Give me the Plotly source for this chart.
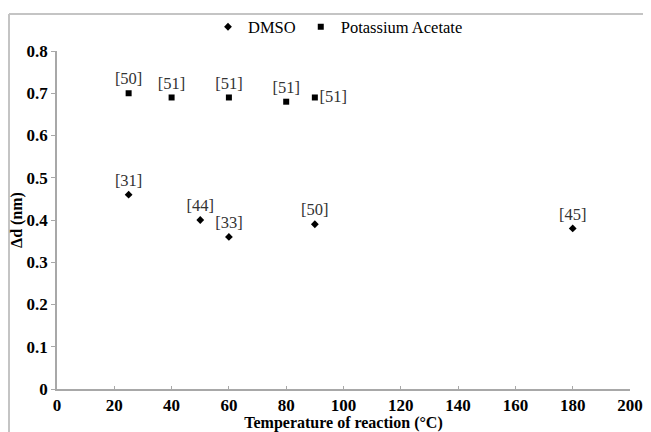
import plotly.graph_objects as go

dmso_x = [25, 50, 60, 90, 180]
dmso_y = [0.46, 0.40, 0.36, 0.39, 0.38]
dmso_lbl = ["[31]", "[44]", "[33]", "[50]", "[45]"]

ka_x = [25, 40, 60, 80, 90]
ka_y = [0.70, 0.69, 0.69, 0.68, 0.69]
ka_lbl = ["[50]", "[51]", "[51]", "[51]", "[51]"]
ka_pos = ["top center", "top center", "top center", "top center", "middle right"]

x_ticks = list(range(0, 201, 20))
y_ticks = [0, 0.1, 0.2, 0.3, 0.4, 0.5, 0.6, 0.7, 0.8]
y_tick_text = ["0", "0.1", "0.2", "0.3", "0.4", "0.5", "0.6", "0.7", "0.8"]

serif = "Liberation Serif"

fig = go.Figure()
fig.add_trace(go.Scatter(
    x=dmso_x, y=dmso_y, mode="markers+text", name="DMSO",
    text=dmso_lbl, textposition="top center",
    textfont=dict(family=serif, size=16.5, color="#333333"),
    marker=dict(symbol="diamond", size=6, color="black"),
))
fig.add_trace(go.Scatter(
    x=ka_x, y=ka_y, mode="markers+text", name="Potassium Acetate",
    text=ka_lbl, textposition=ka_pos,
    textfont=dict(family=serif, size=16.5, color="#333333"),
    marker=dict(symbol="square", size=6, color="black"),
))

# page body has an 8px margin; plot area in window pixels x 57..630, y 51..389
OFF = 8
W, H = 651 - OFF, 432 - OFF
x_left, x_right, y_top, y_bot = 57, 630, 51, 389
L, R = x_left - OFF, (OFF + W) - x_right
T, B = y_top - OFF, (OFF + H) - y_bot

def px(xw):
    return (xw - x_left) / (x_right - x_left)

def py(yw):
    return (y_bot - yw) / (y_bot - y_top)

border = dict(color="#c4c4c4", width=2)

fig.update_layout(
    width=W, height=H,
    margin=dict(l=L, r=R, t=T, b=B, autoexpand=False),
    paper_bgcolor="white", plot_bgcolor="white",
    font=dict(family=serif, color="black"),
    showlegend=True,
    legend=dict(orientation="h", x=px(338), xanchor="center", y=py(27), yanchor="middle",
                font=dict(family=serif, size=16.5, color="black"),
                itemwidth=30, bgcolor="rgba(0,0,0,0)"),
    xaxis=dict(range=[0, 200], tickvals=x_ticks, ticktext=[str(v) for v in x_ticks],
               showgrid=False, zeroline=False, showline=True, linecolor="#a8a8a8",
               linewidth=1.5, ticks="inside", ticklen=3, tickcolor="#a8a8a8",
               tickfont=dict(family=serif, size=17, color="black", weight="bold"),
               title=dict(text="<b>Temperature of reaction (°C)</b>",
                          font=dict(family=serif, size=16, color="black"), standoff=3),
               automargin=True),
    yaxis=dict(range=[0, 0.8], tickvals=y_ticks, ticktext=y_tick_text,
               showgrid=False, zeroline=False, showline=True, linecolor="#a8a8a8",
               linewidth=1.5, ticks="outside", ticklen=4, tickcolor="#a8a8a8",
               tickfont=dict(family=serif, size=17, color="black", weight="bold"),
               title=dict(text="<b>Δd (nm)</b>",
                          font=dict(family=serif, size=16, color="black"), standoff=0),
               automargin=True),
    shapes=[
        dict(type="line", xref="paper", yref="paper",
             x0=px(9), x1=px(660), y0=py(14), y1=py(14), line=border, layer="below"),
        dict(type="line", xref="paper", yref="paper",
             x0=px(9), x1=px(9), y0=py(14), y1=py(440), line=border, layer="below"),
    ],
)

fig.write_html("out.html")
